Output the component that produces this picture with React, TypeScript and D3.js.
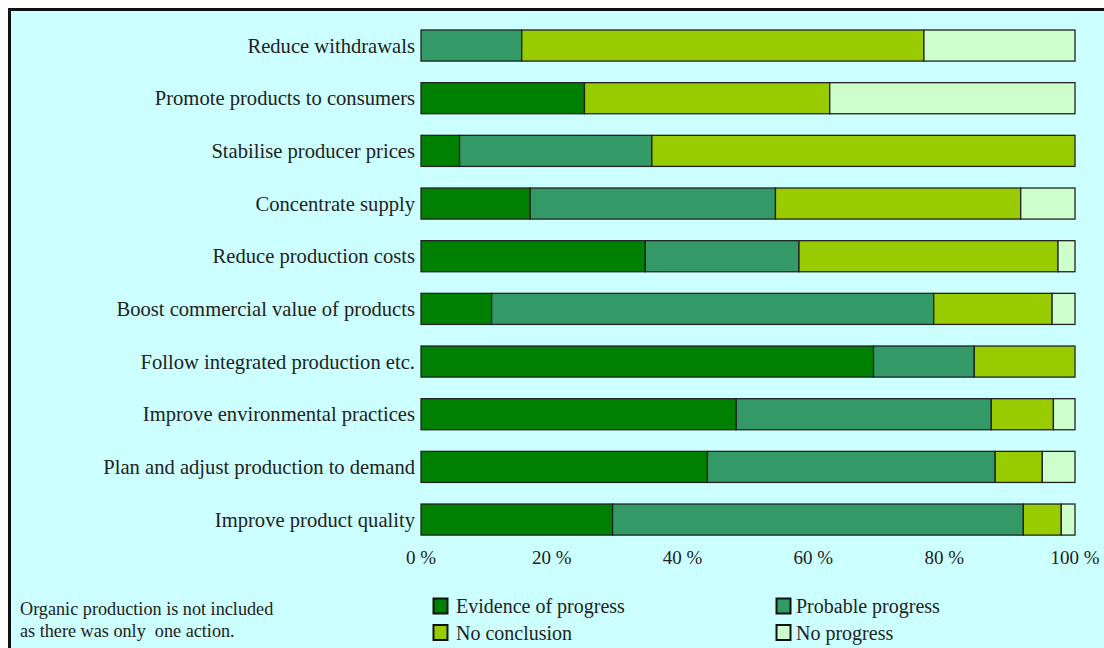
import React from "react";
import * as d3 from "d3";

const categories = [
  "Reduce withdrawals",
  "Promote products to consumers",
  "Stabilise producer prices",
  "Concentrate supply",
  "Reduce production costs",
  "Boost commercial value of products",
  "Follow integrated production etc.",
  "Improve environmental practices",
  "Plan and adjust production to demand",
  "Improve product quality",
];
const evidence = [0, 25, 5.9, 16.7, 34.3, 10.8, 69.2, 48.2, 43.8, 29.3];
const probable = [15.4, 0, 29.4, 37.5, 23.5, 67.6, 15.4, 39.0, 44.0, 62.8];
const noConclusion = [61.5, 37.5, 64.7, 37.5, 39.6, 18.1, 15.4, 9.5, 7.2, 5.8];
const noProgress = [23.1, 37.5, 0, 8.3, 2.6, 3.5, 0, 3.3, 5.0, 2.1];
const seriesNames = ["Evidence of progress", "Probable progress", "No conclusion", "No progress"];
const seriesColors = ["#008000", "#339966", "#99CC00", "#CCFFCC"];
const tickValues = [0, 20, 40, 60, 80, 100];
const tickLabels = ["0 %", "20 %", "40 %", "60 %", "80 %", "100 %"];
const footnote = ["Organic production is not included", "as there was only  one action."];

const FONT = "'Liberation Serif', 'Times New Roman', serif";

export default function App() {
  const W = 1096;
  const H = 640;
  const x = d3.scaleLinear().domain([0, 100]).range([413, 1067]);
  const y = d3
    .scaleBand<string>()
    .domain(categories)
    .range([11.2, 537.9])
    .paddingInner(0.41)
    .paddingOuter(0.205);

  const rows = categories.map((c, i) => ({
    cat: c,
    s0: evidence[i],
    s1: probable[i],
    s2: noConclusion[i],
    s3: noProgress[i],
  }));
  const keys = ["s0", "s1", "s2", "s3"];
  const stack = d3.stack<any>().keys(keys)(rows);

  const legendPos = [
    { x: 425.5, y: 590.5, tx: 448 },
    { x: 768.5, y: 590.5, tx: 788 },
    { x: 425.5, y: 617, tx: 448 },
    { x: 768.5, y: 617, tx: 788 },
  ];

  return (
    <svg
      width={W}
      height={H}
      style={{ display: "block", position: "fixed", left: 8, top: 8, overflow: "visible" }}
      fontFamily={FONT}
    >
      <rect x={1.5} y={1.5} width={W + 50} height={H + 50} fill="#CCFFFF" stroke="#111" strokeWidth={3} />
      {stack.map((layer, li) => (
        <g key={li}>
          {layer.map((d: any, i: number) => {
            const w = x(d[1]) - x(d[0]);
            if (w <= 0) return null;
            return (
              <rect
                key={i}
                x={x(d[0])}
                y={y(categories[i])}
                width={w}
                height={y.bandwidth()}
                fill={seriesColors[li]}
                stroke="#222"
                strokeWidth={1.3}
              />
            );
          })}
        </g>
      ))}
      {categories.map((c) => (
        <text
          key={c}
          x={407}
          y={(y(c) as number) + y.bandwidth() / 2}
          dy="0.35em"
          textAnchor="end"
          fontSize={20.6}
          fill="#222"
        >
          {c}
        </text>
      ))}
      {tickValues.map((t, i) => (
        <text key={t} x={x(t)} y={549} dy="0.35em" textAnchor="middle" fontSize={19} fill="#222">
          {tickLabels[i]}
        </text>
      ))}
      {seriesNames.map((n, i) => (
        <g key={n}>
          <rect
            x={legendPos[i].x}
            y={legendPos[i].y}
            width={14}
            height={15}
            fill={seriesColors[i]}
            stroke="#111"
            strokeWidth={2}
          />
          <text x={legendPos[i].tx} y={legendPos[i].y + 7.5} dy="0.35em" fontSize={20} fill="#222">
            {n}
          </text>
        </g>
      ))}
      {footnote.map((l, i) => (
        <text key={i} x={12} y={607 + i * 22} fontSize={18.2} fill="#222" style={{ whiteSpace: "pre" }}>
          {l}
        </text>
      ))}
    </svg>
  );
}
